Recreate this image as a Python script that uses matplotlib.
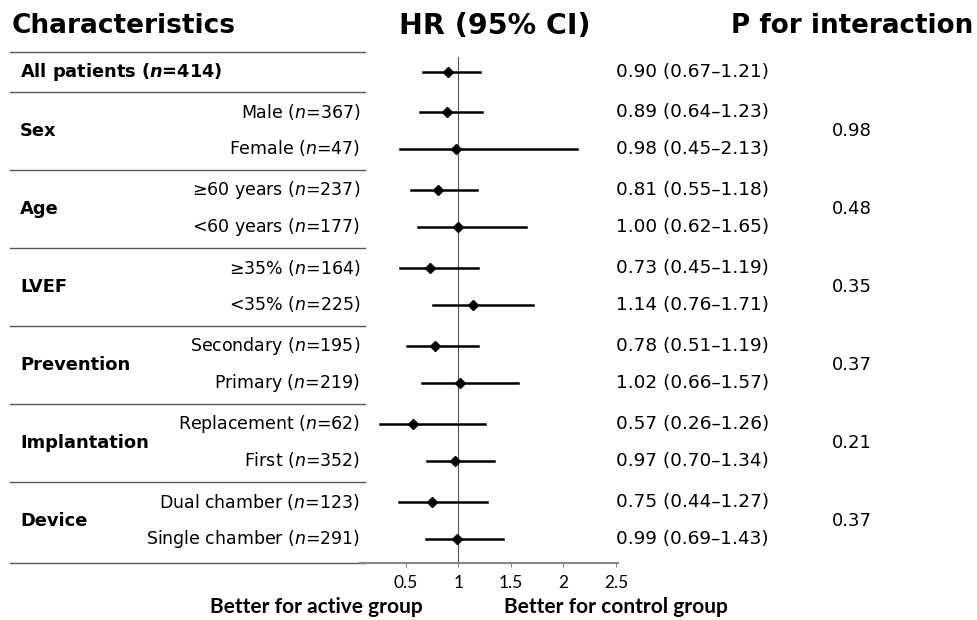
import matplotlib.pyplot as plt
from matplotlib.transforms import blended_transform_factory

# data
groups = ["All patients", "Sex", "Age", "LVEF", "Prevention", "Implantation", "Device"]
subgroups = [
    ["All patients ($\\mathbfit{n}$=414)"],
    ["Male ($n$=367)", "Female ($n$=47)"],
    ["≥60 years ($n$=237)", "<60 years ($n$=177)"],
    ["≥35% ($n$=164)", "<35% ($n$=225)"],
    ["Secondary ($n$=195)", "Primary ($n$=219)"],
    ["Replacement ($n$=62)", "First ($n$=352)"],
    ["Dual chamber ($n$=123)", "Single chamber ($n$=291)"],
]
hr = [[0.90], [0.89, 0.98], [0.81, 1.00], [0.73, 1.14], [0.78, 1.02], [0.57, 0.97], [0.75, 0.99]]
lo = [[0.67], [0.64, 0.45], [0.55, 0.62], [0.45, 0.76], [0.51, 0.66], [0.26, 0.70], [0.44, 0.69]]
hi = [[1.21], [1.23, 2.13], [1.18, 1.65], [1.19, 1.71], [1.19, 1.57], [1.26, 1.34], [1.27, 1.43]]
p_inter = [None, "0.98", "0.48", "0.35", "0.37", "0.21", "0.37"]
xticks = [0.5, 1, 1.5, 2, 2.5]

W, H = 978, 620
fig = plt.figure(figsize=(W / 100, H / 100), dpi=100)
fig.patch.set_facecolor("white")

ax_l, ax_r, ax_t, ax_b = 360, 618, 52, 563
ax = fig.add_axes([ax_l / W, 1 - ax_b / H, (ax_r - ax_l) / W, (ax_b - ax_t) / H])
ax.set_xlim(0.067, 2.52)
ax.set_ylim(ax_b - ax_t, 0)

fx = lambda px: px / W
tr = blended_transform_factory(fig.transFigure, ax.transData)

sep_color = "#555555"
y = 0
for gi, g in enumerate(groups):
    n = len(subgroups[gi])
    height = 40 if n == 1 else 78
    ax.plot([fx(10), fx(365)], [y, y], transform=tr, color=sep_color, lw=1, clip_on=False)
    for i in range(n):
        yr = y + 20 + 36.5 * i
        ax.plot([lo[gi][i], hi[gi][i]], [yr, yr], color="black", lw=1.8, zorder=3)
        ax.plot(hr[gi][i], yr, marker="D", color="black", ms=5, zorder=4)
        txt = f"{hr[gi][i]:.2f} ({lo[gi][i]:.2f}–{hi[gi][i]:.2f})"
        ax.text(fx(616), yr, txt, transform=tr, ha="left", va="center", fontsize=13.3)
        if n == 1:
            ax.text(fx(20), yr, subgroups[gi][i], transform=tr, ha="left", va="center",
                    fontsize=12.8, fontweight="bold")
        else:
            ax.text(fx(360), yr, subgroups[gi][i], transform=tr, ha="right", va="center",
                    fontsize=12.5)
    if n > 1:
        ax.text(fx(20), y + height / 2, g, transform=tr, ha="left", va="center",
                fontsize=12.9, fontweight="bold")
    if p_inter[gi]:
        ax.text(fx(852), y + height / 2, p_inter[gi], transform=tr, ha="center",
                va="center", fontsize=13)
    y += height

ax.plot([fx(10), fx(365)], [ax_b - ax_t, ax_b - ax_t], transform=tr, color=sep_color,
        lw=1, clip_on=False)
ax.axvline(1, ymin=0, ymax=0.99, color="#555555", lw=0.8, zorder=1)

for s in ["top", "left", "right"]:
    ax.spines[s].set_visible(False)
ax.spines["bottom"].set_color("#888888")
ax.spines["bottom"].set_linewidth(1.5)
ax.set_yticks([])
ax.set_xticks(xticks)
ax.set_xticklabels(["0.5", "1", "1.5", "2", "2.5"], family="Lato", fontsize=12.5)
ax.tick_params(axis="x", length=3, color="#888888", pad=6)

fig.text(fx(12), 1 - 26 / H, "Characteristics", ha="left", va="center",
         fontsize=19, fontweight="bold")
fig.text(fx(495), 1 - 26 / H, "HR (95% CI)", ha="center", va="center",
         fontsize=20.5, fontweight="bold")
fig.text(fx(973), 1 - 26 / H, "P for interaction", ha="right", va="center",
         fontsize=18.8, fontweight="bold")
fig.text(fx(316), 1 - 607 / H, "Better for active group", ha="center", va="center",
         fontsize=15, fontweight="bold", family="Lato")
fig.text(fx(616), 1 - 607 / H, "Better for control group", ha="center", va="center",
         fontsize=15, fontweight="bold", family="Lato")

fig.savefig("out.png", dpi=100)
